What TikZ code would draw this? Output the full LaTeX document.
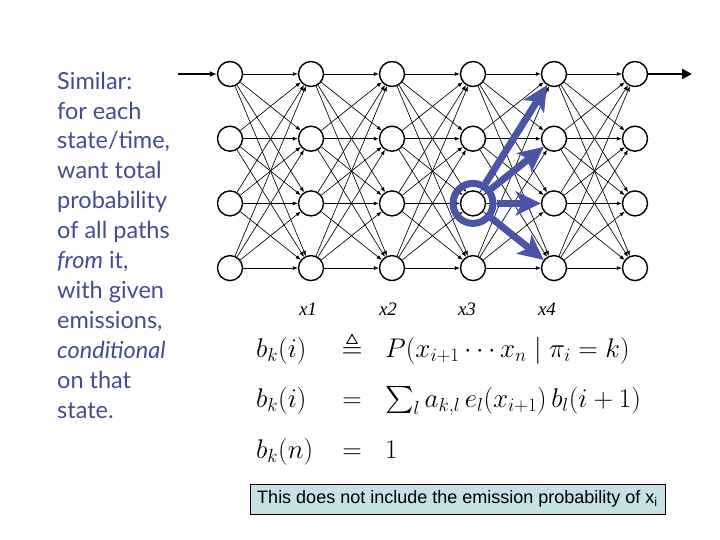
\RequirePackage{fix-cm}
\documentclass[tikz,border=0pt]{standalone}
\usepackage{amssymb}
\usepackage{fontspec}
\newfontfamily\notefont{Lato}
\newfontfamily\boxfont{Liberation Sans}
\newfontfamily\labfont{Liberation Serif}
\usetikzlibrary{positioning}
\usetikzlibrary{arrows.meta}
\definecolor{slideblue}{RGB}{66,76,150}
\definecolor{hiblue}{RGB}{74,85,168}
\definecolor{notefill}{RGB}{198,226,230}

\begin{document}
\begin{tikzpicture}[x=1pt,y=-1pt]
% -------------------------------------------------
\tikzset{
  state/.style={draw, circle, line width=1.4pt, minimum size=25pt, inner sep=0pt, fill=white},
  trans/.style={draw, line width=0.65pt, -{Latex[length=5pt,width=4pt]}},
  feed/.style={draw, line width=1.3pt, -{Latex[length=7pt,width=6pt]}},
  exit/.style={draw, line width=2.4pt, -{Triangle[length=10pt,width=10pt]}},
  ring/.style={draw=hiblue, circle, line width=7pt, minimum size=40pt, inner sep=0pt},
  pick/.style={draw=hiblue, line width=7pt, -{Stealth[length=25pt,width=24pt,inset=6pt]}},
  lab/.style={font=\labfont\itshape\fontsize{19}{22}\selectfont, inner sep=0pt, anchor=base},
  eq/.style={font=\fontsize{27}{30}\selectfont, inner sep=0pt},
  desc/.style={font=\notefont\fontsize{23.5}{29.9}\selectfont, text=slideblue, align=left, inner sep=0pt},
  notebox/.style={draw, line width=0.8pt, fill=notefill, minimum width=415pt, minimum height=30pt,
    inner sep=0pt, font=\boxfont\fontsize{18}{20}\selectfont}
}
\useasboundingbox (0,0) rectangle (720,540);

% trellis of states
\foreach \c in {1,...,6}
  \foreach \r in {1,...,4}
    \node [state] (n\c\r) at ({230+81*(\c-1)},{74+64.7*(\r-1)}) {};

\foreach \c [evaluate=\c as \d using int(\c+1)] in {1,...,5}
  \foreach \r in {1,...,4}
    \foreach \s in {1,...,4}
      \path [trans] (n\c\r) -- (n\d\s);

\coordinate (in) at (178,74);
\coordinate (out) at (692,74);
\path [feed] (in) -- (n11);
\path [exit] (n61) -- (out);

% highlighted state
\node [ring] (hi) at (n43) {};
\foreach \s in {1,...,4}
  \path [pick] (hi) -- (n5\s);

% observations
\node [lab] (lx1) at (308,315) {x1};
\node [lab] (lx2) at (388,315) {x2};
\node [lab] (lx3) at (467,315) {x3};
\node [lab] (lx4) at (547,315) {x4};

% recursion
\node [eq, anchor=base west] (lhsa) at (256,357) {$b_k(i)$};
\node [eq, anchor=base] (rela) at (352,357) {$\triangleq$};
\node [eq, anchor=base west] (rhsa) at (385,357) {$P(x_{i+1}\cdots x_n \mid \pi_i = k)$};
\node [eq, anchor=base west] (lhsb) at (256,407) {$b_k(i)$};
\node [eq, anchor=base] (relb) at (352,407) {$=$};
\node [eq, anchor=base west] (rhsb) at (385,407) {$\sum_l a_{k,l}\, e_l(x_{i+1})\, b_l(i+1)$};
\node [eq, anchor=base west] (lhsc) at (256,458) {$b_k(n)$};
\node [eq, anchor=base] (relc) at (352,458) {$=$};
\node [eq, anchor=base west] (rhsc) at (385,458) {$1$};

% side text
\node [desc, anchor=base west] (side) at (57,418) {Similar:\\for each\\state/time,\\want total\\probability\\of all paths\\
  \textit{from} it,\\with given\\emissions,\\\textit{conditional}\\on that\\state.};

\node [notebox] (note) at (457.5,499) {This does not include the emission probability of x\textsubscript{i}};

\end{tikzpicture}
\end{document}
